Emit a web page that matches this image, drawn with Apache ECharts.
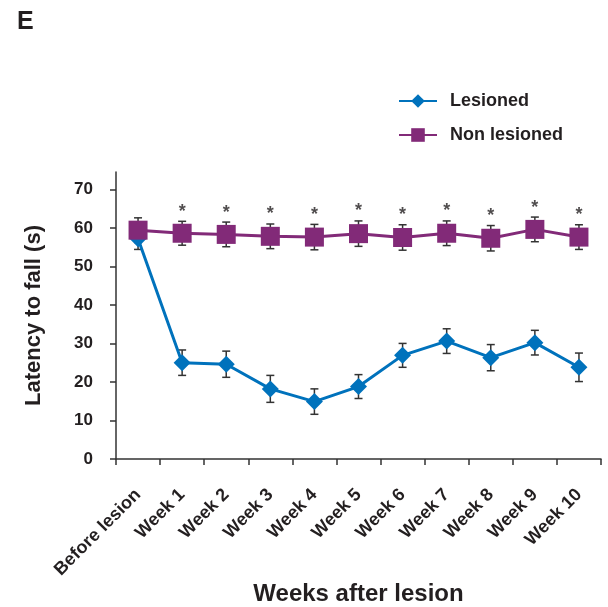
<!DOCTYPE html>
<html>
<head>
<meta charset="utf-8">
<title>Latency to fall</title>
<script src="https://cdn.jsdelivr.net/npm/echarts@6/dist/echarts.min.js"></script>
<style>
  html, body { margin: 0; padding: 0; background: #fff; }
  #chart { width: 608px; height: 607px; }
</style>
</head>
<body>
<div id="chart"></div>
<script>
// categories on the x axis
const categories = ['Before lesion', 'Week 1', 'Week 2', 'Week 3', 'Week 4', 'Week 5',
  'Week 6', 'Week 7', 'Week 8', 'Week 9', 'Week 10']

// mean latency (s)
const lesioned = [57.2, 25.0, 24.6, 18.2, 14.9, 18.8, 26.9, 30.6, 26.3, 30.2, 23.8]
const nonLesioned = [59.4, 58.6, 58.3, 57.8, 57.6, 58.5, 57.5, 58.6, 57.3, 59.6, 57.6]

// error bars (SEM)
const lesionedErr = [2.8, 3.3, 3.4, 3.5, 3.3, 3.1, 3.1, 3.2, 3.4, 3.2, 3.7]
const nonLesionedErr = [3.2, 3.1, 3.2, 3.2, 3.3, 3.3, 3.3, 3.2, 3.3, 3.2, 3.2]

// significance marks
const stars = ['', '*', '*', '*', '*', '*', '*', '*', '*', '*', '*']

// y axis ticks
const yTicks = [0, 10, 20, 30, 40, 50, 60, 70]

const FONT = 'Liberation Sans, Arial, sans-serif'
const BLUE = '#0072bc'
const PURPLE = '#822a78'
const TEXT = '#231f20'

const chart = echarts.init(document.getElementById('chart'))

// 误差线数据
function errData(mean, err) {
  return mean.map((m, i) => [i, m - err[i], m + err[i]])
}

function renderErr(params, api) {
  const x = api.value(0)
  const lo = api.coord([x, api.value(1)])
  const hi = api.coord([x, api.value(2)])
  const cap = 4
  const style = { stroke: '#333', lineWidth: 1.5 }
  return {
    type: 'group',
    children: [
      { type: 'line', shape: { x1: lo[0], y1: lo[1], x2: hi[0], y2: hi[1] }, style },
      { type: 'line', shape: { x1: hi[0] - cap, y1: hi[1], x2: hi[0] + cap, y2: hi[1] }, style },
      { type: 'line', shape: { x1: lo[0] - cap, y1: lo[1], x2: lo[0] + cap, y2: lo[1] }, style }
    ]
  }
}

const option = {
  animation: false,
  textStyle: { fontFamily: FONT },
  graphic: [
    {
      type: 'text',
      left: 17,
      top: 10,
      style: { text: 'E', font: 'bold 25px ' + FONT, fill: TEXT }
    }
  ],
  legend: {
    orient: 'vertical',
    left: 393,
    top: 87,
    itemGap: 16,
    itemWidth: 38,
    itemHeight: 17,
    textStyle: {
      fontFamily: FONT,
      fontWeight: 'bold',
      fontSize: 18,
      color: TEXT,
      padding: [0, 0, 0, 8]
    },
    data: ['Lesioned', 'Non lesioned']
  },
  grid: {
    left: 116,
    right: 7,
    top: 172,
    bottom: 147
  },
  xAxis: {
    type: 'category',
    data: categories,
    boundaryGap: true,
    name: 'Weeks after lesion',
    nameLocation: 'middle',
    nameGap: 122,
    nameTextStyle: { fontFamily: FONT, fontWeight: 'bold', fontSize: 24, color: TEXT },
    axisLine: { lineStyle: { color: '#333', width: 1.5 } },
    axisTick: { show: true, inside: false, length: 6, alignWithLabel: false, lineStyle: { color: '#333', width: 1.5 } },
    axisLabel: {
      interval: 0,
      rotate: 45,
      margin: 33,
      fontFamily: FONT,
      fontWeight: 'bold',
      fontSize: 18,
      color: TEXT
    },
    splitLine: { show: false }
  },
  yAxis: {
    type: 'value',
    min: 0,
    max: 74.5,
    name: 'Latency to fall (s)',
    nameLocation: 'middle',
    nameRotate: 90,
    nameGap: 71,
    nameTextStyle: { fontFamily: FONT, fontWeight: 'bold', fontSize: 22, color: TEXT },
    axisLine: { show: true, lineStyle: { color: '#333', width: 1.5 } },
    axisTick: { show: true, length: 6, customValues: yTicks, lineStyle: { color: '#333', width: 1.5 } },
    axisLabel: {
      customValues: yTicks,
      margin: 23,
      fontFamily: FONT,
      fontWeight: 'bold',
      fontSize: 17,
      color: TEXT
    },
    splitLine: { show: false }
  },
  series: [
    {
      type: 'custom',
      name: 'errL',
      renderItem: renderErr,
      data: errData(lesioned, lesionedErr),
      z: 1,
      silent: true
    },
    {
      type: 'custom',
      name: 'errN',
      renderItem: renderErr,
      data: errData(nonLesioned, nonLesionedErr),
      z: 1,
      silent: true
    },
    {
      name: 'Lesioned',
      type: 'line',
      data: lesioned,
      symbol: 'diamond',
      symbolSize: [17, 17],
      color: BLUE,
      lineStyle: { color: BLUE, width: 3 },
      itemStyle: { color: BLUE },
      z: 2
    },
    {
      name: 'Non lesioned',
      type: 'line',
      data: nonLesioned,
      symbol: 'rect',
      symbolSize: 19,
      color: PURPLE,
      lineStyle: { color: PURPLE, width: 3 },
      itemStyle: { color: PURPLE },
      z: 3
    },
    {
      // 显著性星号
      type: 'scatter',
      name: 'stars',
      data: nonLesioned.map((m, i) => [i, m + nonLesionedErr[i]]),
      symbolSize: 1,
      itemStyle: { color: 'rgba(0,0,0,0)' },
      label: {
        show: true,
        position: 'top',
        distance: 0,
        formatter: (p) => stars[p.dataIndex],
        fontFamily: FONT,
        fontWeight: 'bold',
        fontSize: 18,
        color: TEXT
      },
      silent: true,
      z: 4
    }
  ]
}

chart.setOption(option)
</script>
</body>
</html>
